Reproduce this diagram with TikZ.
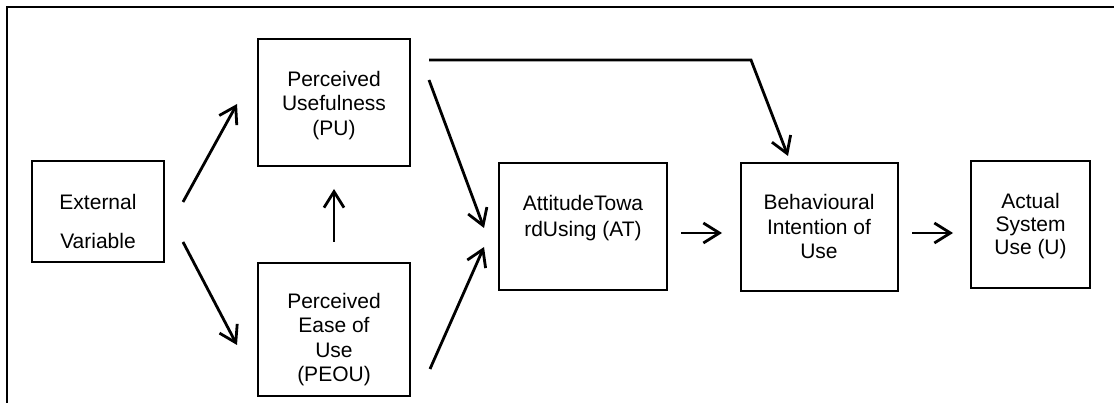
\documentclass[tikz,border=0pt]{standalone}
\usepackage{fontspec}
\setmainfont{Liberation Sans}
\usetikzlibrary{arrows.meta}
\tikzset{
  box/.style={draw, line width=2pt, inner sep=0pt},
  txt/.style={align=center, inner sep=0pt, font=\fontsize{21}{24.5}\selectfont},
  arr/.style={line width=2.8pt, -{Straight Barb[length=16pt,width=20pt]}},
  frame/.style={line width=2.2pt}
}
\begin{document}
\begin{tikzpicture}[x=1pt,y=-1pt]
\useasboundingbox (0,0) rectangle (1114,403);
% outer frame (open at right and bottom)
\draw[frame] (7,410) -- (7,7) -- (1120,7);

% boxes
\node[box, minimum width=132pt, minimum height=101pt] (ev)   at (98,211.5)   {};
\node[box, minimum width=152pt, minimum height=127pt] (pu)   at (334,102.5)  {};
\node[box, minimum width=152pt, minimum height=133pt] (peou) at (334,329.5)  {};
\node[box, minimum width=168pt, minimum height=127pt] (at)   at (583,226.5)  {};
\node[box, minimum width=157pt, minimum height=128pt] (bi)   at (819.5,227)  {};
\node[box, minimum width=119pt, minimum height=127pt] (asu)  at (1030.5,224.5) {};

% texts
\node[txt, font=\fontsize{21}{39}\selectfont] (evt) at (98,221.2) {External\\Variable};
\node[txt] (put)   at (334,105.2) {Perceived\\Usefulness\\(PU)};
\node[txt] (peout) at (334,339.5) {Perceived\\Ease of\\Use\\(PEOU)};
\node[txt, font=\fontsize{21}{26}\selectfont] (att) at (583,218.3) {AttitudeTowa\\rdUsing (AT)};
\node[txt] (bit)   at (819,226.5) {Behavioural\\Intention of\\Use};
\node[txt, font=\fontsize{21}{23.3}\selectfont] (asut) at (1030.5,226.2) {Actual\\System\\Use (U)};

% connectors
\draw[arr] ([shift={(18,-9.5)}]ev.east) -- ([shift={(-20,1.5)}]pu.west);
\draw[arr] ([shift={(18,30.5)}]ev.east) -- ([shift={(-20,15.5)}]peou.west);
\draw[arr] ([shift={(0,-20)}]peou.north) -- ([shift={(0,22)}]pu.south);
\draw[arr] ([shift={(18,-22.5)}]pu.east) -- ([shift={(-14,1.5)}]at.west);
\draw[arr] ([shift={(19,39.5)}]peou.east) -- ([shift={(-14,20.5)}]at.west);
\coordinate (bend) at (751,60);
\draw[arr] ([shift={(18,-42.5)}]pu.east) -- (bend) -- ([shift={(-31.5,-6)}]bi.north);
\draw[arr] ([shift={(13,6.5)}]at.east) -- ([shift={(-18,6)}]bi.west);
\draw[arr] ([shift={(13,6)}]bi.east) -- ([shift={(-17,8.5)}]asu.west);
\end{tikzpicture}
\end{document}
